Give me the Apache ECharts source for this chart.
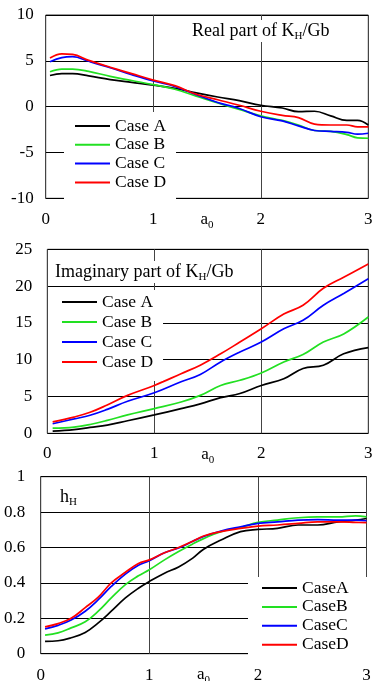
<!DOCTYPE html>
<html><head><meta charset="utf-8">
<script src="https://cdn.jsdelivr.net/npm/echarts@6/dist/echarts.min.js"></script>
<style>html,body{margin:0;padding:0;background:#fff}#c{width:372px;height:681px}</style>
</head><body><div id="c"></div>
<script>
// ---- data ----
const caseNames = ['Case A', 'Case B', 'Case C', 'Case D'];
const caseNames3 = ['CaseA', 'CaseB', 'CaseC', 'CaseD'];
const caseColors = ['#000000', '#22e022', '#0000ff', '#ff0000'];
const xTicks = [0, 1, 2, 3];

// Panel 1: Real part of K_H/Gb
const realX = [0.04,0.15,0.25,0.4,0.6,0.8,1.0,1.2,1.4,1.6,1.8,2.0,2.2,2.35,2.5,2.65,2.8,2.9,3.0];
const realA = [3.4,3.6,3.6,3.35,2.95,2.65,2.35,2.0,1.5,1.05,0.65,0.15,-0.15,-0.55,-0.5,-1.0,-1.5,-1.5,-2.0];
const realB = [3.8,4.1,4.1,3.85,3.3,2.85,2.4,1.9,1.15,0.4,-0.3,-1.0,-1.5,-2.0,-2.6,-2.7,-3.05,-3.4,-3.45];
const realC = [4.9,5.35,5.45,4.95,4.25,3.5,2.8,2.2,1.3,0.45,-0.2,-1.1,-1.55,-2.1,-2.6,-2.7,-2.8,-3.0,-2.9];
const realD = [5.3,5.75,5.7,5.05,4.3,3.6,2.9,2.3,1.35,0.75,0.15,-0.5,-0.95,-1.2,-1.9,-2.0,-2.0,-2.2,-2.2];

// Panel 2: Imaginary part of K_H/Gb
const imagX = [0.05,0.25,0.4,0.56,0.75,1.0,1.25,1.43,1.62,1.8,2.0,2.21,2.39,2.58,2.77,3.0];
const imagA = [0.3,0.5,0.8,1.1,1.7,2.5,3.35,4.0,4.85,5.4,6.5,7.4,8.8,9.25,10.8,11.65];
const imagB = [0.7,0.85,1.2,1.75,2.5,3.35,4.25,5.15,6.5,7.2,8.2,9.7,10.7,12.4,13.5,15.8];
const imagC = [1.3,1.95,2.45,3.25,4.35,5.5,7.0,8.0,9.7,11.05,12.4,14.2,15.35,17.4,19.0,21.0];
const imagD = [1.55,2.2,2.85,3.85,5.15,6.5,8.1,9.25,10.8,12.4,14.2,16.2,17.4,19.7,21.2,23.0];

// Panel 3: h_H
const hX = [0.04,0.16,0.28,0.41,0.53,0.65,0.78,0.9,1.0,1.14,1.27,1.4,1.5,1.66,1.84,2.0,2.18,2.37,2.55,2.74,2.9,3.0];
const hA = [0.07,0.073,0.09,0.12,0.174,0.24,0.315,0.37,0.408,0.455,0.49,0.54,0.59,0.642,0.69,0.702,0.708,0.727,0.727,0.745,0.755,0.764];
const hB = [0.105,0.118,0.146,0.18,0.24,0.315,0.39,0.44,0.474,0.53,0.577,0.62,0.65,0.69,0.713,0.742,0.755,0.768,0.773,0.773,0.779,0.773];
const hC = [0.14,0.16,0.19,0.24,0.305,0.38,0.45,0.50,0.525,0.57,0.597,0.635,0.662,0.693,0.717,0.736,0.745,0.755,0.758,0.755,0.755,0.751];
const hD = [0.152,0.17,0.2,0.26,0.32,0.4,0.46,0.51,0.53,0.57,0.6,0.635,0.665,0.69,0.708,0.721,0.727,0.736,0.745,0.745,0.742,0.74];

// ---- build ----
const FONT = 'Liberation Serif';
const sub = { fontSize: 11, lineHeight: 12, verticalAlign: 'bottom', fontFamily: FONT, color: '#000' };
const pairs = (xs, ys) => xs.map((x, i) => [x, ys[i]]);

function mkX(gi, margin) {
  return {
    gridIndex: gi, type: 'value', min: xTicks[0], max: xTicks[xTicks.length - 1], interval: 1,
    name: 'a{s|0}', nameLocation: 'middle', nameGap: 10, nameMoveOverlap: false,
    nameTextStyle: { fontFamily: FONT, fontSize: 17, color: '#000', lineHeight: 22, rich: { s: sub } },
    axisLine: { show: false }, axisTick: { show: false },
    axisLabel: { margin: margin, fontFamily: FONT, fontSize: 17, color: '#000' },
    splitLine: { show: true, lineStyle: { color: '#444', width: 1 } }
  };
}
function mkY(gi, min, max, interval, margin) {
  return {
    gridIndex: gi, type: 'value', min: min, max: max, interval: interval,
    axisLine: { show: false }, axisTick: { show: false },
    axisLabel: { margin: margin, fontFamily: FONT, fontSize: 17, color: '#000' },
    splitLine: { show: true, lineStyle: { color: '#000', width: 1 } }
  };
}
function mkSeries(gi, names, xs, ysList) {
  return ysList.map((ys, k) => ({
    type: 'line', name: names[k], xAxisIndex: gi, yAxisIndex: gi,
    data: pairs(xs, ys), smooth: 0.4, symbol: 'none', showSymbol: false,
    lineStyle: { color: caseColors[k], width: 1.7 }, itemStyle: { color: caseColors[k] },
    z: 2 + k, animation: false
  }));
}
function mkLegend(names, left, top, padding, gap) {
  return {
    data: names.map(n => ({ name: n, icon: 'rect' })), orient: 'vertical', left: left, top: top, padding: padding,
    backgroundColor: '#fff', itemWidth: 35, itemHeight: 2, itemGap: gap,
    textStyle: { fontFamily: FONT, fontSize: 17.5, color: '#000' }, selectedMode: false, z: 10
  };
}
function mkTitle(text, left, top, bg) {
  return {
    text: text, left: left, top: top, padding: [0, 3, 0, 3], backgroundColor: bg,
    textStyle: { fontFamily: FONT, fontSize: 18, fontWeight: 'normal', color: '#000', lineHeight: 22, rich: { s: sub } },
    z: 10
  };
}

const gridStyle = { show: true, borderColor: '#333', borderWidth: 1, containLabel: false, outerBoundsMode: 'none' };

const option = {
  animation: false,
  backgroundColor: '#fff',
  title: [
    mkTitle('Real part of K{s|H}/Gb', 189, 20, '#fff'),
    mkTitle('Imaginary part of K{s|H}/Gb', 52, 261, '#fff'),
    mkTitle('h{s|H}', 57, 486, 'transparent')
  ],
  legend: [
    mkLegend(caseNames, 64, 112, [5, 10, 9, 11], 0.8),
    mkLegend(caseNames, 48, 290, [3, 10, 10, 14], 2.0),
    mkLegend(caseNames3, 248, 577, [2, 20, 4, 14], 0.9)
  ],
  grid: [
    Object.assign({ left: 45.7, top: 15, width: 322.6, height: 183.3 }, gridStyle),
    Object.assign({ left: 47.3, top: 249.3, width: 321, height: 184 }, gridStyle),
    Object.assign({ left: 40.7, top: 476.7, width: 325.8, height: 177 }, gridStyle)
  ],
  xAxis: [mkX(0, 13), mkX(1, 12), mkX(2, 13)],
  yAxis: [mkY(0, -10, 10, 5, 12), mkY(1, 0, 25, 5, 15), mkY(2, 0, 1, 0.2, 15.5)],
  series: [].concat(
    mkSeries(0, caseNames, realX, [realA, realB, realC, realD]),
    mkSeries(1, caseNames, imagX, [imagA, imagB, imagC, imagD]),
    mkSeries(2, caseNames3, hX, [hA, hB, hC, hD])
  )
};
const chart = echarts.init(document.getElementById('c'), null, { renderer: 'canvas' });
chart.setOption(option);
</script>
</body></html>
